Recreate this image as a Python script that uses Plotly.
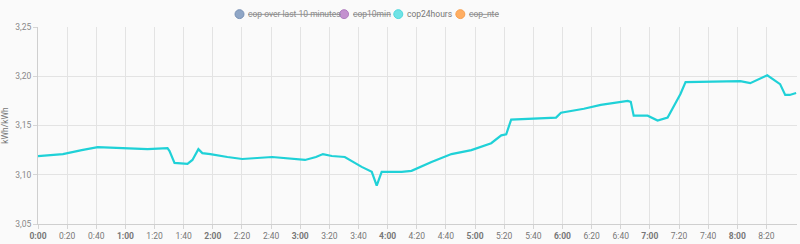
import plotly.graph_objects as go

# time in minutes since 0:00, value in kWh/kWh
t_min = [0, 17.1, 30, 41, 58.1, 75.2, 88.9, 90.3, 93.7, 102.6, 106, 110.1, 112.8, 118.3, 130, 140.2, 160.7,
         175, 183.3, 190.8, 195.6, 201.7, 210.6, 222.2, 229.1, 232.5, 235.9, 249.6, 256.4, 270.1, 283.8,
         297.5, 311.1, 318, 321.4, 324.8, 340.5, 355.6, 359, 374.7, 386.3, 404.8, 406.9, 408.9, 418.5,
         425.3, 432.2, 435.6, 441, 444.5, 482.1, 488.9, 500.6, 509.4, 512.9, 516, 520.4]
cop24 = [3.119, 3.121, 3.125, 3.128, 3.127, 3.126, 3.127, 3.124, 3.112, 3.111, 3.115, 3.126, 3.122, 3.121,
         3.118, 3.116, 3.118, 3.116, 3.115, 3.118, 3.121, 3.119, 3.118, 3.108, 3.103, 3.089, 3.103, 3.103,
         3.104, 3.113, 3.121, 3.125, 3.132, 3.140, 3.141, 3.156, 3.157, 3.158, 3.163, 3.167, 3.171, 3.175,
         3.174, 3.160, 3.160, 3.155, 3.158, 3.167, 3.182, 3.194, 3.195, 3.193, 3.201, 3.192, 3.181, 3.181,
         3.183]

legend_names = ["<s>cop over last 10 minutes</s>", "<s>cop10min</s>", "cop24hours", "<s>cop_nte</s>"]
legend_colors = ["#8fa6c6", "#c391cf", "#6fe3e6", "#ffae62"]
legend_lines = ["#7891b5", "#b07dbf", "#4fd9dd", "#f7a04f"]

tick_vals = list(range(0, 520, 20))
tick_text = [("<b>%d:00</b>" % (v // 60)) if v % 60 == 0 else "%d:%02d" % (v // 60, v % 60) for v in tick_vals]
y_ticks = [3.05, 3.10, 3.15, 3.20, 3.25]

W, H = 800, 244
ML, MR, MT, MB = 35, 3, 27, 18
PW, PH = W - ML - MR, H - MT - MB


def px_x(p):
    return (p - ML) / PW


def px_y(p):
    return (H - MB - p) / PH


fig = go.Figure()
fig.add_trace(go.Scatter(x=t_min, y=cop24, mode="lines", line=dict(color="#1fd1d7", width=2.2),
                         showlegend=False, hoverinfo="skip"))

# manual legend (echarts style)
leg_cx = [237.3, 342.3, 396.7, 459]
leg_cy = 14
r = 4.5
for name, c, lc, cx in zip(legend_names, legend_colors, legend_lines, leg_cx):
    fig.add_shape(type="circle", xref="paper", yref="paper",
                  x0=px_x(cx - r), x1=px_x(cx + r), y0=px_y(leg_cy + r), y1=px_y(leg_cy - r),
                  fillcolor=c, line=dict(color=lc, width=1))
    fig.add_annotation(xref="paper", yref="paper", x=px_x(cx + 7.5), y=px_y(leg_cy),
                       xanchor="left", yanchor="middle", text=name, showarrow=False,
                       borderpad=0, font=dict(size=8.5, color="#8a8a8a" if "<s>" in name else "#777777"))

fig.update_layout(
    width=W, height=H,
    margin=dict(l=ML, r=MR, t=MT, b=MB),
    paper_bgcolor="#fafafa", plot_bgcolor="#fafafa",
    separators=",.",
    font=dict(family="Roboto", size=9, color="#777777"),
    showlegend=False,
    xaxis=dict(range=[0, 521], tickvals=tick_vals, ticktext=tick_text, showgrid=True,
               gridcolor="#e3e3e3", gridwidth=1, showline=True, linecolor="#cfcfcf",
               ticks="outside", ticklen=4, tickcolor="#d5d5d5", zeroline=False,
               tickfont=dict(size=8.5, color="#777777")),
    yaxis=dict(range=[3.05, 3.25], tickvals=y_ticks, tickformat=".2f", showgrid=True,
               gridcolor="#e3e3e3", showline=True, linecolor="#cfcfcf", ticks="outside",
               ticklen=4, tickcolor="#d5d5d5", zeroline=False,
               title=dict(text="kWh/kWh", font=dict(size=8.5, color="#777777"), standoff=6),
               tickfont=dict(size=8.5, color="#888888")),
)
fig.write_html("out.html")
